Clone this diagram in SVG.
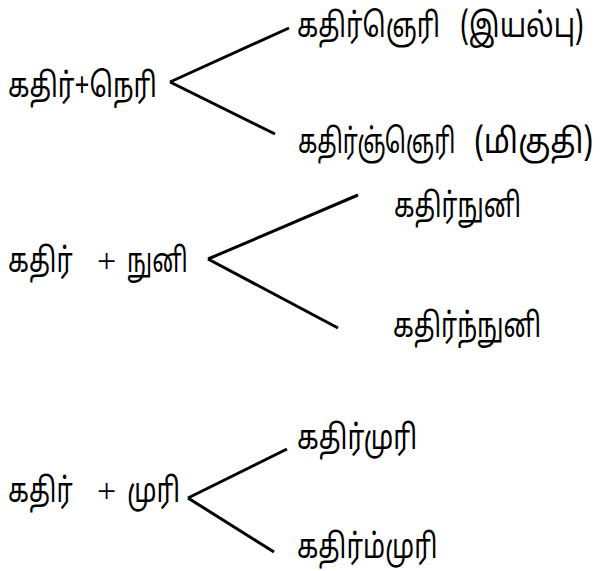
<svg xmlns="http://www.w3.org/2000/svg" width="603" height="571" viewBox="0 0 603 571">
<style>
text{font-family:"Noto Sans Tamil","Lohit Tamil","Liberation Sans",sans-serif;font-size:34px;fill:#000}
text.s{font-family:"Liberation Serif",serif;font-size:34px}
.c line{stroke:#000;stroke-width:3;stroke-linecap:butt}
</style>
<rect width="603" height="571" fill="#fff"/>
<g id="n1"><text transform="translate(8,97) scale(0.76,1)" textLength="196" lengthAdjust="spacingAndGlyphs">கதிர்+நெரி</text></g>
<g id="n2">
<text transform="translate(297,37) scale(0.76,1)" textLength="188" lengthAdjust="spacingAndGlyphs">கதிர்ஞெரி</text>
<text transform="translate(460,37) scale(0.76,1)" textLength="163" lengthAdjust="spacingAndGlyphs">(இயல்பு)</text>
</g>
<g id="n3">
<text transform="translate(298,153) scale(0.76,1)" textLength="207" lengthAdjust="spacingAndGlyphs">கதிர்ஞ்ஞெரி</text>
<text transform="translate(474,153) scale(0.76,1)" textLength="157" lengthAdjust="spacingAndGlyphs">(மிகுதி)</text>
</g>
<g id="n4">
<text transform="translate(8,272) scale(0.76,1)" textLength="85" lengthAdjust="spacingAndGlyphs">கதிர்</text>
<text class="s" x="97" y="272">+</text>
<text transform="translate(127,272) scale(0.76,1)" textLength="80" lengthAdjust="spacingAndGlyphs">நுனி</text>
</g>
<g id="n5"><text transform="translate(394,217) scale(0.76,1)" textLength="167" lengthAdjust="spacingAndGlyphs">கதிர்நுனி</text></g>
<g id="n6"><text transform="translate(393,337) scale(0.76,1)" textLength="195" lengthAdjust="spacingAndGlyphs">கதிர்ந்நுனி</text></g>
<g id="n7">
<text transform="translate(8,502) scale(0.76,1)" textLength="85" lengthAdjust="spacingAndGlyphs">கதிர்</text>
<text class="s" x="97" y="502">+</text>
<text transform="translate(127,502) scale(0.76,1)" textLength="70" lengthAdjust="spacingAndGlyphs">முரி</text>
</g>
<g id="n8"><text transform="translate(297,449) scale(0.76,1)" textLength="158" lengthAdjust="spacingAndGlyphs">கதிர்முரி</text></g>
<g id="n9"><text transform="translate(297,558) scale(0.76,1)" textLength="185" lengthAdjust="spacingAndGlyphs">கதிர்ம்முரி</text></g>
<g class="c" id="connectors">
<line x1="170" y1="82" x2="289" y2="28"/>
<line x1="170" y1="82" x2="275" y2="134"/>
<line x1="208" y1="259" x2="358" y2="195"/>
<line x1="208" y1="259" x2="338" y2="328"/>
<line x1="188" y1="498" x2="287" y2="449"/>
<line x1="188" y1="498" x2="274" y2="552"/>
</g>
</svg>
